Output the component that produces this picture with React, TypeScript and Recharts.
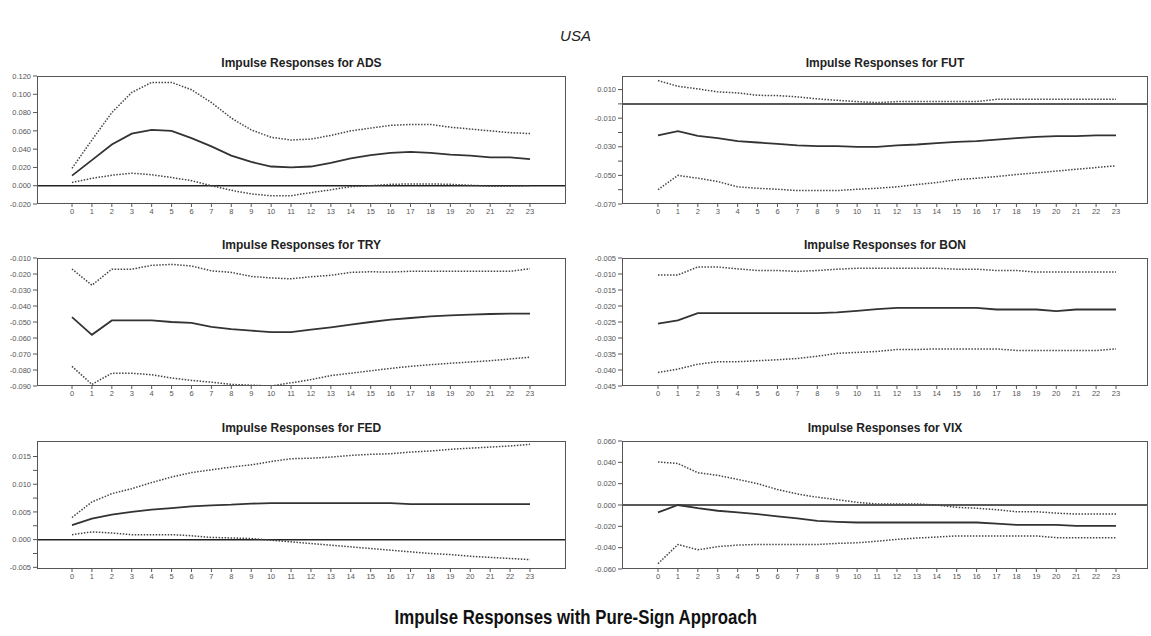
import React from "react";
import { LineChart, Line, XAxis, YAxis, ReferenceLine } from "recharts";

// horizons 0..23
const horizons = ["0","1","2","3","4","5","6","7","8","9","10","11","12","13","14","15","16","17","18","19","20","21","22","23"];

const adsLower = [0.0036,0.008,0.0115,0.0137,0.012,0.009,0.0055,0.0,-0.005,-0.009,-0.011,-0.011,-0.0075,-0.0045,-0.001,0.0,0.0015,0.002,0.002,0.0015,0.0005,-0.0005,-0.0005,0.0];
const adsMedian = [0.011,0.028,0.045,0.057,0.061,0.06,0.052,0.043,0.033,0.026,0.021,0.02,0.021,0.025,0.03,0.0335,0.036,0.037,0.036,0.034,0.033,0.031,0.031,0.029];
const adsUpper = [0.019,0.05,0.08,0.102,0.113,0.113,0.105,0.091,0.074,0.061,0.053,0.05,0.051,0.055,0.06,0.063,0.066,0.067,0.067,0.064,0.062,0.06,0.058,0.057];

const futLower = [-0.06,-0.05,-0.052,-0.0543,-0.058,-0.059,-0.0597,-0.0606,-0.0606,-0.0606,-0.0597,-0.059,-0.058,-0.0564,-0.055,-0.053,-0.052,-0.0508,-0.0494,-0.0482,-0.047,-0.0457,-0.0445,-0.0433];
const futMedian = [-0.022,-0.019,-0.0223,-0.024,-0.026,-0.027,-0.028,-0.029,-0.0295,-0.0295,-0.03,-0.03,-0.029,-0.0284,-0.0274,-0.0265,-0.026,-0.025,-0.024,-0.023,-0.0225,-0.0225,-0.022,-0.022];
const futUpper = [0.0163,0.0123,0.0105,0.0084,0.0077,0.006,0.0058,0.0049,0.0035,0.0025,0.0016,0.0009,0.0016,0.0016,0.0016,0.0016,0.0016,0.0032,0.0032,0.0032,0.0032,0.0032,0.0032,0.0032];

const tryLower = [-0.0777,-0.089,-0.082,-0.082,-0.083,-0.085,-0.0865,-0.0876,-0.089,-0.0895,-0.09,-0.088,-0.086,-0.0835,-0.082,-0.0805,-0.079,-0.0777,-0.0767,-0.0758,-0.075,-0.0742,-0.0731,-0.072];
const tryMedian = [-0.047,-0.058,-0.049,-0.049,-0.049,-0.05,-0.0506,-0.053,-0.0544,-0.0554,-0.0563,-0.0563,-0.0548,-0.0533,-0.0517,-0.05,-0.0485,-0.0475,-0.0465,-0.0458,-0.0454,-0.045,-0.0448,-0.0448];
const tryUpper = [-0.0169,-0.027,-0.017,-0.017,-0.0146,-0.014,-0.015,-0.018,-0.019,-0.0215,-0.0225,-0.023,-0.0217,-0.0208,-0.019,-0.0186,-0.0188,-0.0183,-0.0183,-0.0183,-0.0183,-0.0183,-0.0183,-0.0167];

const bonLower = [-0.0408,-0.0397,-0.0382,-0.0374,-0.0374,-0.0371,-0.0368,-0.0364,-0.0357,-0.0348,-0.0345,-0.0342,-0.0336,-0.0336,-0.0334,-0.0334,-0.0334,-0.0334,-0.0339,-0.0339,-0.0339,-0.0339,-0.0339,-0.0334];
const bonMedian = [-0.0255,-0.0245,-0.0222,-0.0222,-0.0222,-0.0222,-0.0222,-0.0222,-0.0222,-0.022,-0.0215,-0.021,-0.0206,-0.0206,-0.0206,-0.0206,-0.0206,-0.0211,-0.0211,-0.0211,-0.0216,-0.0211,-0.0211,-0.0211];
const bonUpper = [-0.0103,-0.0103,-0.0078,-0.0078,-0.0084,-0.0089,-0.0089,-0.0092,-0.0089,-0.0085,-0.0082,-0.0082,-0.0082,-0.0082,-0.0082,-0.0085,-0.0085,-0.0089,-0.0089,-0.0094,-0.0094,-0.0094,-0.0094,-0.0094];

const fedLower = [0.0009,0.0014,0.0012,0.0009,0.0009,0.0009,0.0007,0.0004,0.0003,0.0002,-0.0001,-0.0004,-0.0007,-0.001,-0.0013,-0.0016,-0.0019,-0.0022,-0.0025,-0.0027,-0.003,-0.0032,-0.0034,-0.0036];
const fedMedian = [0.0026,0.0038,0.0045,0.005,0.0054,0.0057,0.006,0.0062,0.0063,0.0065,0.0066,0.0066,0.0066,0.0066,0.0066,0.0066,0.0066,0.0064,0.0064,0.0064,0.0064,0.0064,0.0064,0.0064];
const fedUpper = [0.004,0.0068,0.0083,0.0092,0.0103,0.0113,0.0121,0.0126,0.0131,0.0135,0.0141,0.0146,0.0147,0.0149,0.0152,0.0154,0.0155,0.0158,0.016,0.0163,0.0165,0.0167,0.0169,0.0172];

const vixLower = [-0.055,-0.037,-0.042,-0.039,-0.0376,-0.037,-0.037,-0.037,-0.037,-0.036,-0.0354,-0.034,-0.0322,-0.031,-0.03,-0.029,-0.029,-0.029,-0.029,-0.029,-0.0306,-0.0306,-0.0306,-0.0306];
const vixMedian = [-0.007,0.0,-0.003,-0.0054,-0.007,-0.0085,-0.0107,-0.0126,-0.0148,-0.0158,-0.0164,-0.0164,-0.0164,-0.0164,-0.0164,-0.0164,-0.0164,-0.0174,-0.0186,-0.0186,-0.0186,-0.0196,-0.0196,-0.0196];
const vixUpper = [0.0404,0.0389,0.0303,0.0278,0.024,0.02,0.0145,0.0104,0.0073,0.005,0.0025,0.001,0.001,0.001,0.0,-0.0022,-0.003,-0.0044,-0.0063,-0.0063,-0.0076,-0.0085,-0.0085,-0.0085];

// labelled y ticks and unlabelled minor ticks
const adsTicks = [0.12,0.1,0.08,0.06,0.04,0.02,0,-0.02];
const futTicks = [0.01,-0.01,-0.03,-0.05,-0.07];
const futMinor = [0,-0.02,-0.04,-0.06];
const tryTicks = [-0.01,-0.02,-0.03,-0.04,-0.05,-0.06,-0.07,-0.08,-0.09];
const bonTicks = [-0.005,-0.01,-0.015,-0.02,-0.025,-0.03,-0.035,-0.04,-0.045];
const fedTicks = [0.015,0.01,0.005,0,-0.005];
const fedMinor = [0.0125,0.0075,0.0025,-0.0025];
const vixTicks = [0.06,0.04,0.02,0,-0.02,-0.04,-0.06];

const FONT = "'Liberation Sans', Arial, sans-serif";
const PLOT_H = 128;
const Y_W = 37;
const M_TOP = 6;

type PanelProps = {
  title: string;
  lower: number[];
  median: number[];
  upper: number[];
  domain: [number, number];
  ticks: number[];
  minor?: number[];
  left: number;
  top: number;
  width: number;
  padL: number;
  padR: number;
};

function Panel({ title, lower, median, upper, domain, ticks, minor = [], left, top, width, padL, padR }: PanelProps) {
  const data = horizons.map((h, i) => ({ h, lo: lower[i], md: median[i], up: upper[i] }));
  const allTicks = [...ticks, ...minor].sort((a, b) => b - a);
  const isMajor = (v: number) => ticks.some((t) => Math.abs(t - v) < 1e-9);
  const showZero = domain[0] < 0 && domain[1] > 0;

  return (
    <>
      <div
        style={{
          position: "absolute",
          left,
          top: top - 20,
          width,
          textAlign: "center",
          fontFamily: FONT,
          fontWeight: "bold",
          fontSize: 12,
          lineHeight: "15px",
          color: "#222",
        }}
      >
        {title}
      </div>
      <div style={{ position: "absolute", left: left - Y_W, top: top - M_TOP }}>
        <LineChart
          width={Y_W + width + 4}
          height={PLOT_H + M_TOP + 20}
          data={data}
          margin={{ top: M_TOP, right: 4, left: 0, bottom: 0 }}
        >
          <XAxis
            dataKey="h"
            interval={0}
            padding={{ left: padL, right: padR }}
            axisLine={false}
            tickSize={3}
            tickMargin={2}
            height={20}
            tickLine={{ stroke: "#555" }}
            tick={{ fontSize: 7.5, fill: "#555", fontFamily: FONT }}
          />
          <YAxis
            type="number"
            domain={domain}
            allowDataOverflow
            ticks={allTicks}
            interval={0}
            width={Y_W}
            axisLine={false}
            tickSize={4}
            tickMargin={2}
            tickLine={{ stroke: "#555" }}
            tick={{ fontSize: 7.5, fill: "#555", fontFamily: FONT }}
            tickFormatter={(v: number) => (isMajor(v) ? v.toFixed(3) : "")}
          />
          {showZero && <ReferenceLine y={0} stroke="#222" strokeWidth={1.5} />}
          <Line type="linear" dataKey="up" stroke="#444" strokeWidth={1.5} strokeDasharray="1.5 1.5" dot={false} isAnimationActive={false} />
          <Line type="linear" dataKey="lo" stroke="#444" strokeWidth={1.5} strokeDasharray="1.5 1.5" dot={false} isAnimationActive={false} />
          <Line type="linear" dataKey="md" stroke="#333" strokeWidth={1.8} dot={false} isAnimationActive={false} />
        </LineChart>
      </div>
      <div
        style={{
          position: "absolute",
          left,
          top,
          width,
          height: PLOT_H,
          border: "1.5px solid #555",
          boxSizing: "border-box",
          pointerEvents: "none",
        }}
      />
    </>
  );
}

export default function App() {
  const leftX = 37;
  const leftW = 529;
  const rightX = 622;
  const rightW = 526;
  const rows = [76, 258, 441];

  return (
    <div style={{ position: "absolute", left: 0, top: 0, width: 1151, height: 636, background: "#fff" }}>
      <div
        style={{
          position: "absolute",
          left: 0,
          top: 27,
          width: 1151,
          textAlign: "center",
          fontFamily: FONT,
          fontStyle: "italic",
          fontSize: 15,
          lineHeight: "18px",
          color: "#222",
        }}
      >
        USA
      </div>

      <Panel title="Impulse Responses for ADS" lower={adsLower} median={adsMedian} upper={adsUpper}
        domain={[-0.02, 0.12]} ticks={adsTicks} left={leftX} top={rows[0]} width={leftW} padL={35} padR={36} />
      <Panel title="Impulse Responses for FUT" lower={futLower} median={futMedian} upper={futUpper}
        domain={[-0.07, 0.0195]} ticks={futTicks} minor={futMinor} left={rightX} top={rows[0]} width={rightW} padL={36} padR={32} />
      <Panel title="Impulse Responses for TRY" lower={tryLower} median={tryMedian} upper={tryUpper}
        domain={[-0.09, -0.01]} ticks={tryTicks} left={leftX} top={rows[1]} width={leftW} padL={35} padR={36} />
      <Panel title="Impulse Responses for BON" lower={bonLower} median={bonMedian} upper={bonUpper}
        domain={[-0.045, -0.005]} ticks={bonTicks} left={rightX} top={rows[1]} width={rightW} padL={36} padR={32} />
      <Panel title="Impulse Responses for FED" lower={fedLower} median={fedMedian} upper={fedUpper}
        domain={[-0.0053, 0.0178]} ticks={fedTicks} minor={fedMinor} left={leftX} top={rows[2]} width={leftW} padL={35} padR={36} />
      <Panel title="Impulse Responses for VIX" lower={vixLower} median={vixMedian} upper={vixUpper}
        domain={[-0.06, 0.06]} ticks={vixTicks} left={rightX} top={rows[2]} width={rightW} padL={36} padR={32} />

      <div
        style={{
          position: "absolute",
          left: 0,
          top: 605,
          width: 1151,
          textAlign: "center",
          fontFamily: FONT,
          fontWeight: "bold",
          fontSize: 20,
          lineHeight: "24px",
          color: "#111",
        }}
      >
        <span style={{ display: "inline-block", transform: "scaleX(0.84)" }}>
          Impulse Responses with Pure-Sign Approach
        </span>
      </div>
    </div>
  );
}
